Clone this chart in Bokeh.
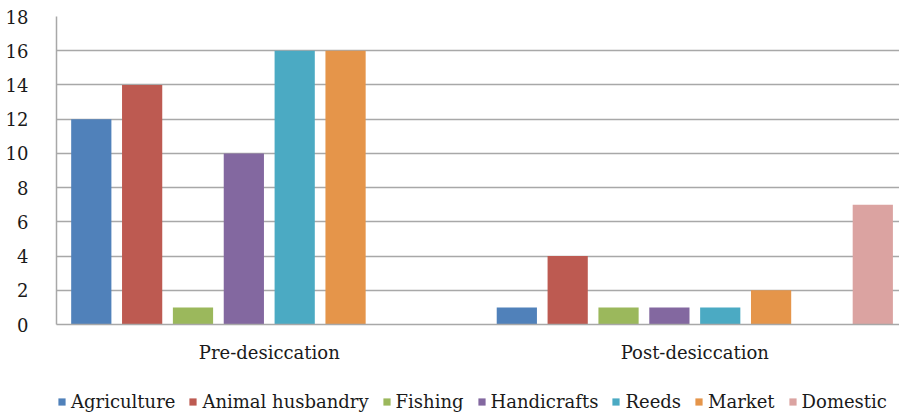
from bokeh.plotting import figure
from bokeh.layouts import column
from bokeh.models import Range1d, FixedTicker, Legend, LegendItem, ColumnDataSource
from bokeh.embed import file_html
from bokeh.resources import INLINE

# Livelihood activities before and after desiccation
groups = ["Pre-desiccation", "Post-desiccation"]
series = ["Agriculture", "Animal husbandry", "Fishing", "Handicrafts",
          "Reeds", "Market", "", "Domestic"]
pre_values = [12, 14, 1, 10, 16, 16, 0, 0]
post_values = [1, 4, 1, 1, 1, 2, 0, 7]
colors = ["#5081BA", "#BD5A51", "#9BB85C", "#8368A0",
          "#4BAAC3", "#E5954A", "#A0A0A0", "#DBA3A1"]
y_ticks = [0, 2, 4, 6, 8, 10, 12, 14, 16, 18]

FONT = "DejaVu Serif"
TEXT = "#1a1a1a"
GRID = "#a8a8a8"

n_slots = len(series)
slot_w = 0.1195   # spacing between bars inside one group (in group units)
bar_w = 0.0945

p = figure(width=899, height=380, output_backend="svg", toolbar_location=None,
           x_range=Range1d(0, 1.981), y_range=Range1d(0, 18),
           min_border_left=56, min_border_right=0, min_border_top=16,
           min_border_bottom=56)
p.outline_line_color = None
p.background_fill_color = "white"
p.border_fill_color = "white"

# legend strip underneath the chart; its ranges lie far away from the data,
# so the key renderers only supply swatches
lg = figure(width=899, height=32, output_backend="svg", toolbar_location=None,
            x_axis_type=None, y_axis_type=None,
            x_range=Range1d(50, 51), y_range=Range1d(50, 51),
            min_border_left=0, min_border_right=0, min_border_top=0,
            min_border_bottom=0)
lg.outline_line_color = None
lg.grid.grid_line_color = None
lg.border_fill_color = "white"

items = []
for i, name in enumerate(series):
    xs = [g + 0.5 + (i - (n_slots - 1) / 2) * slot_w for g in range(len(groups))]
    tops = [pre_values[i], post_values[i]]
    src = ColumnDataSource(dict(x=xs, top=tops))
    p.vbar(x="x", top="top", width=bar_w, bottom=0, source=src,
           fill_color=colors[i], line_color=None)
    if name:
        key = lg.vbar(x="x", top="top", bottom=0, width=bar_w, source=src,
                      fill_color=colors[i], line_color=None)
        items.append(LegendItem(label=name, renderers=[key]))

# axes
p.yaxis.ticker = FixedTicker(ticks=y_ticks)
p.yaxis.major_tick_line_color = None
p.yaxis.minor_tick_line_color = None
p.yaxis.axis_line_color = GRID
p.yaxis.axis_line_width = 1.5
p.yaxis.major_label_standoff = 22
p.yaxis.major_label_text_font = FONT
p.yaxis.major_label_text_font_size = "18px"
p.yaxis.major_label_text_color = TEXT

p.xaxis.ticker = FixedTicker(ticks=[0.5, 1.5])
p.xaxis.major_label_overrides = {0.5: groups[0], 1.5: groups[1]}
p.xaxis.major_tick_line_color = None
p.xaxis.minor_tick_line_color = None
p.xaxis.axis_line_color = GRID
p.xaxis.axis_line_width = 1.5
p.xaxis.major_label_standoff = 11
p.xaxis.major_label_text_font = FONT
p.xaxis.major_label_text_font_size = "18px"
p.xaxis.major_label_text_color = TEXT

p.xgrid.grid_line_color = None
p.ygrid.ticker = FixedTicker(ticks=y_ticks)
p.ygrid.grid_line_color = GRID
p.ygrid.grid_line_width = 1.5

legend = Legend(items=items, orientation="horizontal", location=(1, 0),
                label_text_font=FONT, label_text_font_size="18px",
                label_text_color=TEXT, glyph_width=9, glyph_height=9,
                label_standoff=5, spacing=13, padding=0, margin=0,
                border_line_color=None, background_fill_alpha=0)
lg.add_layout(legend, "center")

layout = column(p, lg, spacing=0)
open("out.html", "w").write(file_html(layout, INLINE))
